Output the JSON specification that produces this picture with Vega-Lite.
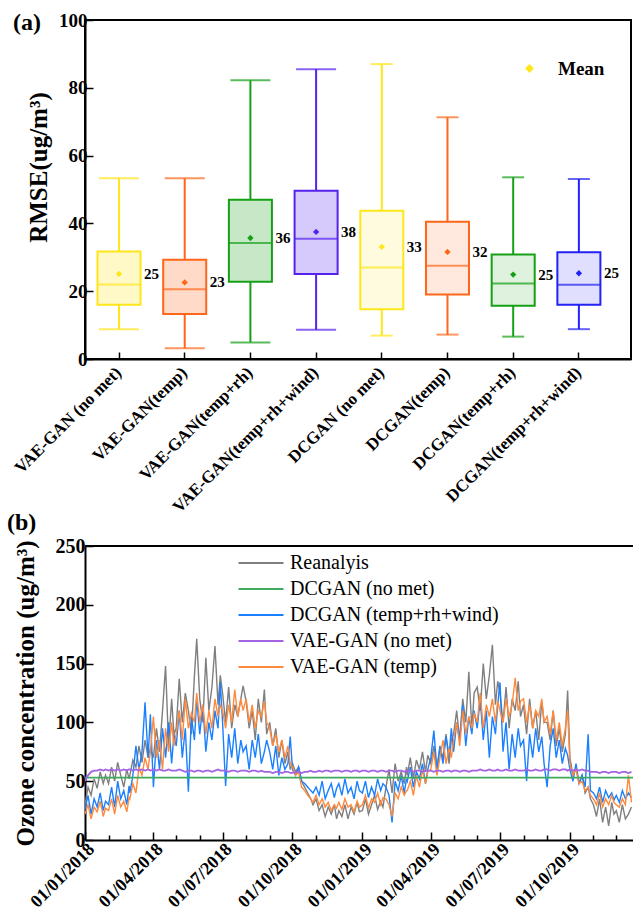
{
"$schema": "https://vega.github.io/schema/vega-lite/v6.json",
"padding": {"left": 7, "top": 10, "right": 0, "bottom": 0},
"spacing": -6,
"resolve": {"scale": {"color": "independent", "fill": "independent", "stroke": "independent", "shape": "independent", "size": "independent", "fillOpacity": "independent"}, "legend": {"color": "independent", "shape": "independent"}},
"config": {
  "font": "Liberation Serif",
  "view": {"stroke": "black", "strokeWidth": 2},
  "axis": {"labelFont": "Liberation Serif", "labelFontWeight": "bold", "labelColor": "black", "titleFont": "Liberation Serif", "titleFontWeight": "bold", "titleColor": "black", "domainColor": "black", "domainWidth": 2, "tickColor": "black", "tickWidth": 1.5, "grid": false, "labelOverlap": false, "labelFlush": false, "labelLimit": 0}
},
"vconcat": [
{
  "width": 546, "height": 339,
  "title": {"text": "(a)", "anchor": "start", "frame": "group", "fontSize": 24, "font": "Liberation Serif", "fontWeight": "bold", "color": "black", "dx": -72, "dy": 24, "offset": 0},
  "data": {"values": [
    {"model": "VAE-GAN (no met)", "family": "VAE-GAN", "min": 8.8, "q1": 16.0, "median": 22.0, "q3": 31.7, "max": 53.3, "mean": 25.1},
    {"model": "VAE-GAN(temp)", "family": "VAE-GAN", "min": 3.2, "q1": 13.3, "median": 20.6, "q3": 29.3, "max": 53.3, "mean": 22.6},
    {"model": "VAE-GAN(temp+rh)", "family": "VAE-GAN", "min": 4.9, "q1": 22.8, "median": 34.2, "q3": 47.0, "max": 82.2, "mean": 35.7},
    {"model": "VAE-GAN(temp+rh+wind)", "family": "VAE-GAN", "min": 8.6, "q1": 25.1, "median": 35.5, "q3": 49.6, "max": 85.5, "mean": 37.5},
    {"model": "DCGAN (no met)", "family": "DCGAN", "min": 6.9, "q1": 14.7, "median": 27.0, "q3": 43.7, "max": 87.0, "mean": 33.1},
    {"model": "DCGAN(temp)", "family": "DCGAN", "min": 7.2, "q1": 19.0, "median": 27.5, "q3": 40.5, "max": 71.3, "mean": 31.6},
    {"model": "DCGAN(temp+rh)", "family": "DCGAN", "min": 6.6, "q1": 15.7, "median": 22.3, "q3": 30.8, "max": 53.6, "mean": 24.9},
    {"model": "DCGAN(temp+rh+wind)", "family": "DCGAN", "min": 8.8, "q1": 16.0, "median": 21.9, "q3": 31.5, "max": 53.1, "mean": 25.3}
  ]},
  "encoding": {
    "x": {"field": "model", "type": "nominal", "sort": null,
      "scale": {"paddingInner": 0.345, "paddingOuter": 0.328, "align": 0.29},
      "axis": {"title": null, "labelAngle": -45, "labelFontSize": 17, "tickSize": -7, "labelPadding": 12, "labelOffset": -6}}
  },
  "layer": [
    {"mark": {"type": "rule", "strokeWidth": 2},
     "encoding": {"y": {"field": "min", "type": "quantitative", "scale": {"domain": [0, 100], "nice": false},
        "axis": {"title": "RMSE(ug/m³)", "titleFontSize": 25, "titlePadding": 7, "titleY": 147, "labelFontSize": 19, "labelPadding": 6,
          "values": [0,10,20,30,40,50,60,70,80,90,100],
          "labelExpr": "datum.value % 20 === 0 ? datum.label : ''",
          "tickSize": {"condition": {"test": "datum.value % 20 === 0", "value": -8}, "value": -5}}},
       "y2": {"field": "q1"},
       "color": {"field": "model", "type": "nominal", "sort": null, "legend": null,
         "scale": {"domain": ["VAE-GAN (no met)","VAE-GAN(temp)","VAE-GAN(temp+rh)","VAE-GAN(temp+rh+wind)","DCGAN (no met)","DCGAN(temp)","DCGAN(temp+rh)","DCGAN(temp+rh+wind)"],
                   "range": ["#FFE61A","#FF661A","#16A016","#5522EE","#FFE61A","#FF661A","#16A016","#2222F5"]}}}},
    {"mark": {"type": "rule", "strokeWidth": 2},
     "encoding": {"y": {"field": "q3", "type": "quantitative"}, "y2": {"field": "max"},
       "color": {"field": "model", "type": "nominal", "sort": null, "legend": null}}},
    {"mark": {"type": "bar", "strokeWidth": 2},
     "encoding": {"y": {"field": "q1", "type": "quantitative"}, "y2": {"field": "q3"},
       "fill": {"field": "model", "type": "nominal", "sort": null, "legend": null,
         "scale": {"domain": ["VAE-GAN (no met)","VAE-GAN(temp)","VAE-GAN(temp+rh)","VAE-GAN(temp+rh+wind)","DCGAN (no met)","DCGAN(temp)","DCGAN(temp+rh)","DCGAN(temp+rh+wind)"],
                   "range": ["#FFE61A","#FF661A","#16A016","#5522EE","#FFE61A","#FF661A","#16A016","#2222F5"]}},
       "stroke": {"field": "model", "type": "nominal", "sort": null, "legend": null,
         "scale": {"domain": ["VAE-GAN (no met)","VAE-GAN(temp)","VAE-GAN(temp+rh)","VAE-GAN(temp+rh+wind)","DCGAN (no met)","DCGAN(temp)","DCGAN(temp+rh)","DCGAN(temp+rh+wind)"],
                   "range": ["#FFE61A","#FF661A","#16A016","#5522EE","#FFE61A","#FF661A","#16A016","#2222F5"]}},
       "fillOpacity": {"field": "family", "type": "nominal", "legend": null, "scale": {"domain": ["VAE-GAN","DCGAN"], "range": [0.24, 0.14]}}}},
    {"mark": {"type": "tick", "thickness": 2, "size": 43},
     "encoding": {"y": {"field": "median", "type": "quantitative"},
       "color": {"field": "model", "type": "nominal", "sort": null, "legend": null}}},
    {"mark": {"type": "tick", "thickness": 2},
     "encoding": {"y": {"field": "min", "type": "quantitative"},
       "color": {"field": "model", "type": "nominal", "sort": null, "legend": null},
       "size": {"field": "family", "type": "nominal", "legend": null, "scale": {"domain": ["VAE-GAN","DCGAN"], "range": [40, 22]}}}},
    {"mark": {"type": "tick", "thickness": 2},
     "encoding": {"y": {"field": "max", "type": "quantitative"},
       "color": {"field": "model", "type": "nominal", "sort": null, "legend": null},
       "size": {"field": "family", "type": "nominal", "legend": null}}},
    {"mark": {"type": "point", "filled": true, "size": 40, "opacity": 1},
     "encoding": {"y": {"field": "mean", "type": "quantitative"},
       "color": {"field": "model", "type": "nominal", "sort": null, "legend": null},
       "shape": {"datum": "Mean", "scale": {"domain": ["Mean"], "range": ["diamond"]},
         "legend": {"title": null, "orient": "none", "legendX": 435, "legendY": 39, "padding": 0,
           "labelFont": "Liberation Serif", "labelFontWeight": "bold", "labelFontSize": 19, "labelColor": "black", "labelOffset": 19,
           "symbolFillColor": "#FFE61A", "symbolStrokeColor": "#FFE61A", "symbolSize": 45}}}},
    {"mark": {"type": "text", "align": "left", "baseline": "middle", "dx": 25, "font": "Liberation Serif", "fontWeight": "bold", "fontSize": 15, "color": "black"},
     "encoding": {"y": {"field": "mean", "type": "quantitative"}, "text": {"field": "mean", "type": "quantitative", "format": ".0f"}}}
  ]
},
{
  "width": 548, "height": 294,
  "view": {"stroke": null},
  "title": {"text": "(b)", "anchor": "start", "frame": "group", "fontSize": 24, "font": "Liberation Serif", "fontWeight": "bold", "color": "black", "dx": -78, "offset": 1},
  "data": {"values": [
{"d":"2018-01-01","r":30,"b":26,"o":22,"p":50},{"d":"2018-01-05","r":45,"b":38,"o":30,"p":55},{"d":"2018-01-09","r":38,"b":22,"o":18,"p":58},{"d":"2018-01-13","r":52,"b":35,"o":28,"p":59},{"d":"2018-01-17","r":44,"b":28,"o":24,"p":59},{"d":"2018-01-21","r":58,"b":40,"o":33,"p":60},{"d":"2018-01-25","r":48,"b":25,"o":20,"p":59},{"d":"2018-01-28","r":55,"b":33,"o":27,"p":60},
{"d":"2018-02-01","r":48,"b":30,"o":25,"p":59},{"d":"2018-02-05","r":62,"b":45,"o":35,"p":60},{"d":"2018-02-09","r":50,"b":28,"o":22,"p":59},{"d":"2018-02-13","r":66,"b":50,"o":38,"p":60},{"d":"2018-02-17","r":55,"b":35,"o":28,"p":59},{"d":"2018-02-21","r":45,"b":42,"o":33,"p":60},{"d":"2018-02-25","r":60,"b":30,"o":24,"p":59},{"d":"2018-02-28","r":52,"b":46,"o":36,"p":60},
{"d":"2018-03-01","r":55,"b":40,"o":35,"p":60},{"d":"2018-03-05","r":68,"b":55,"o":48,"p":59},{"d":"2018-03-09","r":62,"b":80,"o":40,"p":60},{"d":"2018-03-13","r":80,"b":60,"o":62,"p":59},{"d":"2018-03-17","r":66,"b":75,"o":55,"p":60},{"d":"2018-03-21","r":85,"b":117,"o":70,"p":59},{"d":"2018-03-25","r":70,"b":70,"o":60,"p":60},{"d":"2018-03-28","r":78,"b":107,"o":75,"p":59},
{"d":"2018-04-01","r":70,"b":45,"o":105,"p":60},{"d":"2018-04-05","r":95,"b":85,"o":70,"p":59},{"d":"2018-04-09","r":75,"b":60,"o":85,"p":60},{"d":"2018-04-13","r":110,"b":95,"o":60,"p":59},{"d":"2018-04-17","r":148,"b":70,"o":95,"p":59},{"d":"2018-04-21","r":80,"b":100,"o":75,"p":60},{"d":"2018-04-25","r":120,"b":65,"o":100,"p":59},{"d":"2018-04-28","r":90,"b":90,"o":80,"p":59},
{"d":"2018-05-01","r":95,"b":80,"o":90,"p":59},{"d":"2018-05-05","r":137,"b":110,"o":110,"p":60},{"d":"2018-05-09","r":100,"b":70,"o":85,"p":59},{"d":"2018-05-13","r":125,"b":95,"o":120,"p":58},{"d":"2018-05-17","r":110,"b":41,"o":95,"p":59},{"d":"2018-05-21","r":90,"b":105,"o":108,"p":59},{"d":"2018-05-25","r":140,"b":85,"o":100,"p":58},{"d":"2018-05-28","r":171,"b":120,"o":125,"p":59},
{"d":"2018-06-01","r":120,"b":90,"o":100,"p":59},{"d":"2018-06-05","r":100,"b":115,"o":115,"p":58},{"d":"2018-06-09","r":155,"b":75,"o":90,"p":59},{"d":"2018-06-13","r":110,"b":100,"o":110,"p":59},{"d":"2018-06-17","r":130,"b":85,"o":95,"p":58},{"d":"2018-06-21","r":165,"b":110,"o":120,"p":59},{"d":"2018-06-25","r":115,"b":95,"o":105,"p":60},{"d":"2018-06-28","r":140,"b":134,"o":115,"p":59},
{"d":"2018-07-01","r":125,"b":100,"o":110,"p":59},{"d":"2018-07-05","r":100,"b":46,"o":95,"p":59},{"d":"2018-07-09","r":130,"b":90,"o":115,"p":58},{"d":"2018-07-13","r":95,"b":70,"o":100,"p":59},{"d":"2018-07-17","r":115,"b":95,"o":128,"p":59},{"d":"2018-07-21","r":105,"b":65,"o":105,"p":58},{"d":"2018-07-25","r":120,"b":85,"o":120,"p":59},{"d":"2018-07-28","r":131,"b":75,"o":110,"p":59},
{"d":"2018-08-01","r":118,"b":80,"o":120,"p":59},{"d":"2018-08-05","r":95,"b":60,"o":100,"p":58},{"d":"2018-08-09","r":110,"b":85,"o":115,"p":59},{"d":"2018-08-13","r":85,"b":70,"o":95,"p":59},{"d":"2018-08-17","r":120,"b":90,"o":110,"p":58},{"d":"2018-08-21","r":100,"b":65,"o":105,"p":59},{"d":"2018-08-25","r":128,"b":75,"o":118,"p":58},{"d":"2018-08-28","r":90,"b":85,"o":100,"p":58},
{"d":"2018-09-01","r":100,"b":75,"o":95,"p":58},{"d":"2018-09-05","r":80,"b":60,"o":80,"p":57},{"d":"2018-09-09","r":95,"b":80,"o":90,"p":58},{"d":"2018-09-13","r":70,"b":55,"o":75,"p":58},{"d":"2018-09-17","r":85,"b":70,"o":85,"p":57},{"d":"2018-09-21","r":65,"b":60,"o":70,"p":58},{"d":"2018-09-25","r":75,"b":65,"o":80,"p":58},{"d":"2018-09-28","r":60,"b":88,"o":65,"p":57},
{"d":"2018-10-01","r":65,"b":60,"o":62,"p":57},{"d":"2018-10-05","r":58,"b":55,"o":55,"p":58},{"d":"2018-10-09","r":62,"b":62,"o":58,"p":58},{"d":"2018-10-13","r":50,"b":50,"o":45,"p":57},{"d":"2018-10-17","r":45,"b":48,"o":42,"p":58},{"d":"2018-10-21","r":40,"b":45,"o":38,"p":58},{"d":"2018-10-25","r":35,"b":42,"o":35,"p":59},{"d":"2018-10-28","r":30,"b":40,"o":32,"p":58},
{"d":"2018-11-01","r":35,"b":45,"o":38,"p":58},{"d":"2018-11-05","r":25,"b":38,"o":30,"p":59},{"d":"2018-11-09","r":30,"b":50,"o":35,"p":58},{"d":"2018-11-13","r":20,"b":35,"o":28,"p":59},{"d":"2018-11-17","r":28,"b":42,"o":32,"p":59},{"d":"2018-11-21","r":22,"b":48,"o":25,"p":58},{"d":"2018-11-25","r":30,"b":36,"o":30,"p":59},{"d":"2018-11-28","r":18,"b":44,"o":27,"p":59},
{"d":"2018-12-01","r":25,"b":48,"o":32,"p":59},{"d":"2018-12-05","r":20,"b":38,"o":26,"p":58},{"d":"2018-12-09","r":30,"b":52,"o":35,"p":59},{"d":"2018-12-13","r":18,"b":40,"o":28,"p":59},{"d":"2018-12-17","r":28,"b":45,"o":30,"p":58},{"d":"2018-12-21","r":22,"b":35,"o":24,"p":59},{"d":"2018-12-25","r":32,"b":50,"o":33,"p":59},{"d":"2018-12-28","r":24,"b":42,"o":28,"p":58},
{"d":"2019-01-01","r":25,"b":40,"o":30,"p":59},{"d":"2019-01-05","r":35,"b":50,"o":38,"p":59},{"d":"2019-01-09","r":22,"b":36,"o":27,"p":58},{"d":"2019-01-13","r":30,"b":45,"o":35,"p":59},{"d":"2019-01-17","r":38,"b":38,"o":32,"p":59},{"d":"2019-01-21","r":26,"b":52,"o":40,"p":58},{"d":"2019-01-25","r":33,"b":42,"o":30,"p":59},{"d":"2019-01-28","r":28,"b":48,"o":36,"p":59},
{"d":"2019-02-01","r":45,"b":45,"o":35,"p":58},{"d":"2019-02-05","r":60,"b":38,"o":30,"p":59},{"d":"2019-02-09","r":40,"b":15,"o":20,"p":59},{"d":"2019-02-13","r":65,"b":50,"o":40,"p":58},{"d":"2019-02-17","r":50,"b":42,"o":35,"p":59},{"d":"2019-02-21","r":58,"b":55,"o":45,"p":59},{"d":"2019-02-25","r":48,"b":40,"o":38,"p":58},{"d":"2019-02-28","r":62,"b":52,"o":42,"p":59},
{"d":"2019-03-01","r":55,"b":50,"o":42,"p":59},{"d":"2019-03-05","r":70,"b":62,"o":50,"p":59},{"d":"2019-03-09","r":52,"b":45,"o":38,"p":58},{"d":"2019-03-13","r":68,"b":58,"o":55,"p":59},{"d":"2019-03-17","r":60,"b":52,"o":45,"p":59},{"d":"2019-03-21","r":75,"b":65,"o":60,"p":58},{"d":"2019-03-25","r":58,"b":48,"o":48,"p":59},{"d":"2019-03-28","r":72,"b":60,"o":58,"p":59},
{"d":"2019-04-01","r":65,"b":70,"o":60,"p":59},{"d":"2019-04-05","r":80,"b":93,"o":75,"p":58},{"d":"2019-04-09","r":60,"b":60,"o":55,"p":59},{"d":"2019-04-13","r":78,"b":80,"o":70,"p":59},{"d":"2019-04-17","r":70,"b":65,"o":85,"p":58},{"d":"2019-04-21","r":90,"b":88,"o":65,"p":59},{"d":"2019-04-25","r":65,"b":72,"o":78,"p":59},{"d":"2019-04-28","r":85,"b":95,"o":70,"p":58},
{"d":"2019-05-01","r":90,"b":75,"o":85,"p":59},{"d":"2019-05-05","r":110,"b":100,"o":100,"p":59},{"d":"2019-05-09","r":85,"b":85,"o":80,"p":58},{"d":"2019-05-13","r":120,"b":115,"o":110,"p":59},{"d":"2019-05-17","r":100,"b":80,"o":90,"p":59},{"d":"2019-05-21","r":143,"b":105,"o":105,"p":58},{"d":"2019-05-25","r":95,"b":90,"o":95,"p":59},{"d":"2019-05-28","r":125,"b":110,"o":108,"p":59},
{"d":"2019-06-01","r":130,"b":95,"o":100,"p":59},{"d":"2019-06-05","r":110,"b":120,"o":125,"p":60},{"d":"2019-06-09","r":150,"b":85,"o":95,"p":59},{"d":"2019-06-13","r":120,"b":110,"o":115,"p":59},{"d":"2019-06-17","r":140,"b":70,"o":105,"p":60},{"d":"2019-06-21","r":166,"b":105,"o":120,"p":59},{"d":"2019-06-25","r":115,"b":90,"o":100,"p":59},{"d":"2019-06-28","r":135,"b":115,"o":118,"p":60},
{"d":"2019-07-01","r":125,"b":134,"o":110,"p":59},{"d":"2019-07-05","r":100,"b":75,"o":100,"p":59},{"d":"2019-07-09","r":130,"b":100,"o":120,"p":60},{"d":"2019-07-13","r":95,"b":60,"o":105,"p":59},{"d":"2019-07-17","r":120,"b":90,"o":115,"p":59},{"d":"2019-07-21","r":110,"b":70,"o":138,"p":60},{"d":"2019-07-25","r":135,"b":95,"o":110,"p":59},{"d":"2019-07-28","r":105,"b":80,"o":118,"p":59},
{"d":"2019-08-01","r":115,"b":85,"o":120,"p":59},{"d":"2019-08-05","r":90,"b":50,"o":100,"p":60},{"d":"2019-08-09","r":120,"b":90,"o":115,"p":59},{"d":"2019-08-13","r":95,"b":70,"o":95,"p":59},{"d":"2019-08-17","r":110,"b":95,"o":110,"p":60},{"d":"2019-08-21","r":85,"b":75,"o":105,"p":59},{"d":"2019-08-25","r":118,"b":88,"o":120,"p":59},{"d":"2019-08-28","r":100,"b":65,"o":100,"p":60},
{"d":"2019-09-01","r":100,"b":45,"o":105,"p":60},{"d":"2019-09-05","r":85,"b":80,"o":90,"p":59},{"d":"2019-09-09","r":110,"b":95,"o":110,"p":60},{"d":"2019-09-13","r":80,"b":70,"o":85,"p":60},{"d":"2019-09-17","r":95,"b":85,"o":100,"p":59},{"d":"2019-09-21","r":75,"b":65,"o":80,"p":60},{"d":"2019-09-25","r":90,"b":78,"o":95,"p":60},{"d":"2019-09-28","r":127,"b":72,"o":110,"p":59},
{"d":"2019-10-01","r":70,"b":60,"o":65,"p":60},{"d":"2019-10-05","r":55,"b":50,"o":55,"p":59},{"d":"2019-10-09","r":62,"b":65,"o":60,"p":60},{"d":"2019-10-13","r":48,"b":48,"o":48,"p":59},{"d":"2019-10-17","r":55,"b":55,"o":50,"p":60},{"d":"2019-10-21","r":40,"b":45,"o":42,"p":59},{"d":"2019-10-25","r":45,"b":90,"o":45,"p":59},{"d":"2019-10-28","r":35,"b":42,"o":38,"p":58},
{"d":"2019-11-01","r":30,"b":40,"o":35,"p":58},{"d":"2019-11-05","r":20,"b":35,"o":30,"p":58},{"d":"2019-11-09","r":35,"b":45,"o":40,"p":57},{"d":"2019-11-13","r":15,"b":32,"o":28,"p":58},{"d":"2019-11-17","r":28,"b":42,"o":35,"p":58},{"d":"2019-11-21","r":12,"b":36,"o":30,"p":57},{"d":"2019-11-25","r":32,"b":40,"o":38,"p":58},{"d":"2019-11-28","r":22,"b":34,"o":32,"p":58},
{"d":"2019-12-01","r":25,"b":38,"o":30,"p":58},{"d":"2019-12-05","r":15,"b":32,"o":28,"p":57},{"d":"2019-12-09","r":30,"b":42,"o":35,"p":58},{"d":"2019-12-13","r":18,"b":35,"o":30,"p":58},{"d":"2019-12-17","r":22,"b":40,"o":55,"p":57},{"d":"2019-12-21","r":28,"b":36,"o":32,"p":58}
  ]},
  "layer": [
    {"data": {"values": [{"top": 250}]}, "mark": {"type": "rule", "strokeWidth": 2, "color": "black"},
     "encoding": {"y": {"field": "top", "type": "quantitative"}}},
    {"mark": {"type": "line", "strokeWidth": 1.4, "clip": true},
     "encoding": {
       "x": {"field": "d", "type": "temporal",
         "scale": {"type": "utc", "domain": [{"year": 2018, "month": 1, "date": 1, "utc": true}, {"year": 2019, "month": 12, "date": 23, "utc": true}]},
         "axis": {"title": null, "tickCount": {"interval": "month", "step": 1},
           "labelExpr": "utcmonth(datum.value) % 3 === 0 ? utcFormat(datum.value, '%d/%m/%Y') : ''",
           "labelAngle": -45, "labelFontSize": 18, "labelPadding": 8,
           "tickSize": {"condition": {"test": "utcmonth(datum.value) % 3 === 0", "value": -8}, "value": -5}}},
       "y": {"field": "r", "type": "quantitative", "scale": {"domain": [0, 250], "nice": false},
         "axis": {"title": "Ozone concentration (ug/m³)", "titleFontSize": 25, "titlePadding": 17, "labelFontSize": 20, "labelPadding": 8,
           "values": [0,25,50,75,100,125,150,175,200,225,250],
           "labelExpr": "datum.value % 50 === 0 ? datum.label : ''",
           "tickSize": {"condition": {"test": "datum.value % 50 === 0", "value": -8}, "value": -5}}},
       "color": {"datum": "Reanalyis",
         "scale": {"domain": ["Reanalyis", "DCGAN (no met)", "DCGAN (temp+rh+wind)", "VAE-GAN (no met)", "VAE-GAN (temp)"],
                   "range": ["#7F7F7F", "#3DAA5C", "#1A80FF", "#A464E2", "#FF8A3D"]},
         "legend": {"title": null, "orient": "none", "legendX": 165, "legendY": 6, "padding": 0, "labelLimit": 0,
           "labelFont": "Liberation Serif", "labelFontWeight": "normal", "labelFontSize": 20, "labelColor": "black",
           "symbolType": "M-2.25,0L2.25,0", "symbolSize": 400, "symbolStrokeWidth": 2, "labelOffset": 18, "rowPadding": 5}}}},
    {"mark": {"type": "line", "strokeWidth": 1.4, "clip": true},
     "encoding": {"x": {"field": "d", "type": "temporal"}, "y": {"field": "b", "type": "quantitative"},
       "color": {"datum": "DCGAN (temp+rh+wind)"}}},
    {"mark": {"type": "line", "strokeWidth": 1.4, "clip": true},
     "encoding": {"x": {"field": "d", "type": "temporal"}, "y": {"field": "o", "type": "quantitative"},
       "color": {"datum": "VAE-GAN (temp)"}}},
    {"data": {"values": [{"d": "2018-01-01", "g": 53}, {"d": "2019-12-23", "g": 53}]},
     "mark": {"type": "line", "strokeWidth": 1.8, "clip": true},
     "encoding": {"x": {"field": "d", "type": "temporal"}, "y": {"field": "g", "type": "quantitative"},
       "color": {"datum": "DCGAN (no met)"}}},
    {"mark": {"type": "line", "strokeWidth": 1.8, "clip": true},
     "encoding": {"x": {"field": "d", "type": "temporal"}, "y": {"field": "p", "type": "quantitative"},
       "color": {"datum": "VAE-GAN (no met)"}}}
  ]
}
]
}
